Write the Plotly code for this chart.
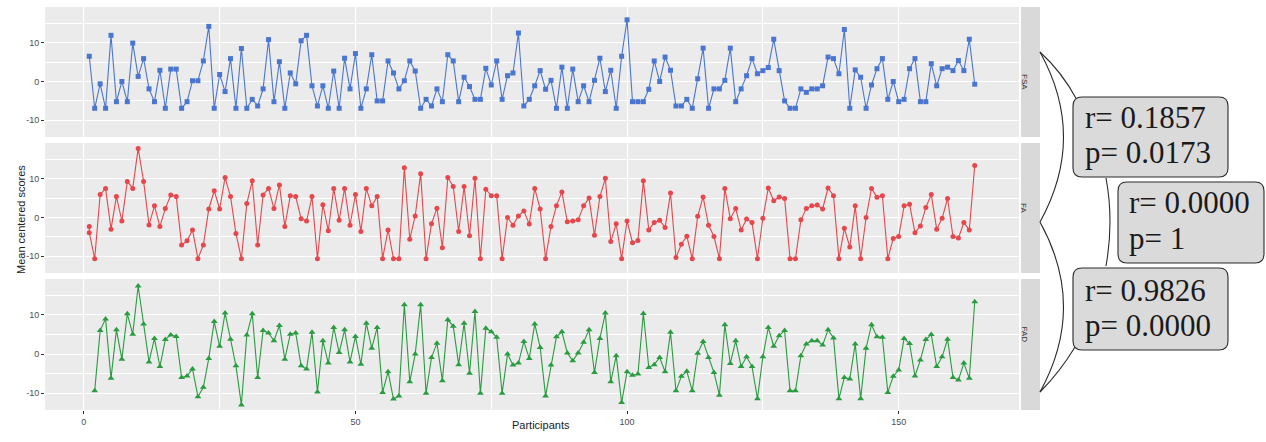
import plotly.graph_objects as go

W, H = 1266, 442

# ---------------- data ----------------
fsa_x = list(range(1, 165))
fsa_y = [6.5, -6.9, -0.6, -6.9, 11.9, -5.2, 0, -5.2, 9.9, 1.3, 5.9, -1.9, -5.2, 2.9, -6.9, 3.2, 3.2, -6.9, -5.2, 0.2,
         0.2, 5.3, 14.2, -6.9, 1.8, -2.6, 5.9, -6.9, 8.5, -6.9, -4.6, -6.3, -1.9, 10.8, -5.2, 5.1, -6.9, 2.2, -0.6, 10.5,
         11.9, -1.1, -6.3, -1.1, -6.9, 2.7, -6.9, 6.0, -1.9, 7.2, -6.9, -1.9, 6.9, -5.0,
         -5.0, 5.3, 2.2, -1.9, 0.2, 5.3, 2.7, -6.9, -4.6, -6.3, -1.9, -5.2, 6.9, 5.3, -5.2, 1.1, -1.3, -4.6, -4.6, 3.4,
         -0.9, 5.3, -4.6, 1.5, 2.2, 12.5, -6.3, -4.6, -1.1, 2.8, -2.0, 0.3, -6.9, 3.7, -6.9, 3.2, -5.2, -1.1, -5.2, 0.3,
         6.0, -2.6, 2.9, -6.9, 6.5, 15.9, -5.2, -5.2, -5.2, -2.0, 5.3, 0, 6.3, 2.9, -6.3, -6.3, -4.6,
         -6.9, 0.7, 8.6, -6.9, -1.9, -1.9, 0.3, 8.6, -5.2, -1.9, 1.5, 5.9, 2.0, 2.8, 3.6, 10.9, 2.8, -5.0, -6.9, -6.9,
         -1.9, -2.8, -1.9, -1.9, -1.1, 6.3, 5.9, 2.0, 13.4, -6.9, 3.0, 1.1, -6.9, -0.9, 3.3, 5.9, -4.6, 0, -5.2, -4.6,
         3.3, 5.9, -5.2, -5.2, 4.6, -1.1, 3.3, 3.7, 2.8, 5.4, 2.8, 10.9, -0.7]

fa_x = [1] + list(range(1, 165))
fa_y = [-2.3, -3.9, -10.6, 5.9, 7.5, -3.0, 5.4, -0.9, 9.3, 7.5, 17.8, 9.3, -1.9, 3.0, -2.3, 2.3, 5.8, 5.4, -7.1, -6.0,
        -3.2, -10.6, -7.1, 2.2, 6.9, 2.2, 10.3, 5.4, -4.1, -10.6, 3.6, 9.5, -7.1, 5.8, 7.5, 2.3, 8.4, -2.3, 5.6, 5.4,
        -0.3, -0.9, 5.4, -10.6, 3.3, -3.4, 7.5, -0.7, 7.5, -2.0, 5.9, -3.6, 7.5, 3.0, 5.4,
        -10.6, -3.2, -10.6, -10.6, 12.8, -5.6, 0.4, 11.3, -10.6, -1.6, 2.4, -7.8, 10.3, 8.0, -3.6, 8.0, -4.7, 10.1,
        -10.6, 7.3, 5.6, 5.6, -10.6, 0, -2.0, 0.4, 1.7, -1.7, 7.5, 2.2, -10.6, -2.3, 3.0, 6.6, -1.1, -0.9, -0.6, 3.0,
        5.0, -4.6, 5.4, 10.1, -6.2, -1.6, -10.6, -0.9, -6.5, -5.9, 9.5, -3.2, -1.3, -0.7, -2.6, 6.3, -10.3, -6.9, -4.8,
        -10.6, 0.3, 5.3, -2.0, -4.9, -10.6, 7.5, -0.3, 2.3, -3.2, -0.4, -1.3, -10.6, -0.2, 7.6, 4.3, 5.3, 4.9, -10.6,
        -10.6, -0.6, 2.3, 3.0, 3.2, 2.2, 7.6, 5.6, -10.6, -2.8, -7.6, 3.0, -10.6, 0, 7.5, 5.2, 5.6, -10.6, -5.4, -4.9,
        3.0, 3.4, -3.9, -2.2, 2.6, 5.9, -3.0, -0.2, 4.9, -4.9, -5.3, -1.3, -3.2, 13.4]

fad_x = list(range(2, 165))
fad_y = [-9.4, 6.0, 9.0, -6.2, 6.2, -1.3, 10.3, 5.1, 17.4, 7.7, -2.0, 4.0, -3.2, 3.7, 4.9, 4.5, -6.0, -5.6, -3.8,
         -10.9, -8.5, -1.1, 8.3, 2.0, 10.5, 3.8, -3.0, -13.0, 4.9, 10.3, -6.0, 6.0, 5.4, 3.4, 7.3, -1.3, 5.1, 5.4, -3.0,
         -3.8, 5.6, -9.7, 3.4, -2.3, 6.8, 0.4, 6.2, -2.0, 4.5, -2.6, 7.9, 1.5, 6.8,
         -9.8, -4.5, -11.5, -10.7, 12.6, -7.1, 0, 12.6, -10.0, -0.9, 2.8, -6.8, 8.8, 7.1, -2.7, 7.9, -4.9, 10.9, -10.0,
         6.6, 5.7, 4.3, -10.0, 0, -2.8, -2.3, 3.2, -1.1, 7.7, 1.7, -10.7, -2.8, 4.4, 5.7, 0.3, -1.7, 0.3, 3.0, 6.2,
         -4.7, 4.0, 10.5, -7.1, -0.4, -12.4, -4.5, -5.4, -5.1, 10.4, -3.4, -2.7, -0.9, -4.5, 5.6, -9.4, -5.7, -4.4,
         -9.4, 0.2, 3.2, -0.9, -4.7, -10.5, 7.5, -2.4, 3.4, -3.2, -0.7, -3.2, -11.4, -0.7, 6.8, 2.0, 4.7, 6.0, -9.4,
         -9.4, -0.4, 2.6, 3.4, 3.4, 2.3, 6.2, 4.1, -11.4, -6.0, -6.4, 2.6, -11.4, 1.5, 7.5, 4.4, 4.3, -9.8, -5.7, -4.1,
         4.0, 2.7, -5.6, -1.5, 3.7, 5.0, -3.2, -0.7, 3.8, -6.0, -6.6, -2.3, -6.2, 13.4]

panels = ["FSA", "FA", "FAD"]
x_ticks = [0, 50, 100, 150]
y_ticks = [-10, 0, 10]
stats_text = [["r= 0.1857", "p= 0.0173"], ["r= 0.0000", "p= 1"], ["r= 0.9826", "p= 0.0000"]]

# ---------------- helpers ----------------
def px(x):
    return x / W

def py(y):
    return 1 - y / H

x_dom = [px(45), px(1019)]
panel_px = [(7, 137), (143, 273), (279, 410)]
y_doms = [[py(b), py(t)] for (t, b) in panel_px]

colors = ["#4B76CF", "#E5474D", "#2A9B40"]
symbols = ["square", "circle", "triangle-up"]
msizes = [5, 5, 6]
series = [(fsa_x, fsa_y), (fa_x, fa_y), (fad_x, fad_y)]

fig = go.Figure()
for k, (xs, ys) in enumerate(series):
    sfx = "" if k == 0 else str(k + 1)
    fig.add_trace(go.Scatter(
        x=xs, y=ys, mode="lines+markers", name=panels[k],
        xaxis="x" + sfx, yaxis="y" + sfx,
        line=dict(color=colors[k], width=1.1),
        marker=dict(color=colors[k], symbol=symbols[k], size=msizes[k], line=dict(width=0)),
        showlegend=False,
    ))

tickfont = dict(family="Liberation Sans, Arial, sans-serif", size=9, color="#4D4D4D")
layout = dict(
    width=W, height=H, margin=dict(l=0, r=0, t=0, b=0),
    paper_bgcolor="white", plot_bgcolor="#EBEBEB",
    showlegend=False,
)
for k in range(3):
    sfx = "" if k == 0 else str(k + 1)
    layout["xaxis" + sfx] = dict(
        domain=x_dom, anchor="y" + sfx, range=[-7.15, 172.15],
        tickvals=x_ticks, ticktext=[str(v) for v in x_ticks],
        showticklabels=(k == 2), ticks="outside" if k == 2 else "",
        ticklen=3, tickwidth=1, tickcolor="#333333",
        showgrid=True, gridcolor="white", gridwidth=1.1, zeroline=False,
        minor=dict(tickvals=[25, 75, 125], showgrid=True, gridcolor="white", gridwidth=0.5),
        tickfont=tickfont, showline=False, fixedrange=True,
    )
    layout["yaxis" + sfx] = dict(
        domain=y_doms[k], anchor="x" + sfx, range=[-14.3, 19.2],
        tickvals=y_ticks, ticktext=[str(v) for v in y_ticks],
        ticks="outside", ticklen=3, tickwidth=1, tickcolor="#333333",
        showgrid=True, gridcolor="white", gridwidth=1.1, zeroline=False,
        minor=dict(tickvals=[-5, 5, 15], showgrid=True, gridcolor="white", gridwidth=0.5),
        tickfont=tickfont, showline=False, fixedrange=True,
    )
fig.update_layout(**layout)

shapes = []
annotations = []
# facet strips
for k, (t, b) in enumerate(panel_px):
    shapes.append(dict(type="rect", xref="paper", yref="paper",
                       x0=px(1021), x1=px(1040), y0=py(b), y1=py(t),
                       fillcolor="#D9D9D9", line=dict(width=0), layer="below"))
    annotations.append(dict(xref="paper", yref="paper", x=px(1030.5), y=py((t + b) / 2),
                            text=panels[k], showarrow=False, textangle=90,
                            font=dict(family="Liberation Sans, Arial, sans-serif", size=8, color="#333333")))

# axis titles
annotations.append(dict(xref="paper", yref="paper", x=px(541), y=py(433), text="Participants",
                        showarrow=False, font=dict(family="Liberation Sans, Arial, sans-serif", size=11, color="#222222")))
annotations.append(dict(xref="paper", yref="paper", x=px(13), y=py(220), text="Mean centered scores",
                        showarrow=False, textangle=-90,
                        font=dict(family="Liberation Sans, Arial, sans-serif", size=11, color="#222222")))

# braces / connectors (pixel coordinates -> paper)
def qpath(p0, c, p1):
    return "M {} {} Q {} {} {} {}".format(px(p0[0]), py(p0[1]), px(c[0]), py(c[1]), px(p1[0]), py(p1[1]))

line_style = dict(color="#2B2B2B", width=1.1)
curves = [
    ((1040, 52), (1087, 137), (1040, 222)),
    ((1040, 222), (1087, 307), (1040, 392)),
    ((1040, 52), (1062, 72), (1077, 100)),
    ((1040, 392), (1060, 372), (1075, 347)),
    ((1106, 178), (1114, 221), (1106, 266)),
]
for c in curves:
    shapes.append(dict(type="path", xref="paper", yref="paper", path=qpath(*c), line=line_style))

# rounded boxes
def rounded(x0, y0, x1, y1, r=9):
    pts = [
        ("M", x0 + r, y0), ("L", x1 - r, y0), ("Q", x1, y0, x1, y0 + r), ("L", x1, y1 - r),
        ("Q", x1, y1, x1 - r, y1), ("L", x0 + r, y1), ("Q", x0, y1, x0, y1 - r), ("L", x0, y0 + r),
        ("Q", x0, y0, x0 + r, y0),
    ]
    s = []
    for p in pts:
        if p[0] == "Q":
            s.append("Q {} {} {} {}".format(px(p[1]), py(p[2]), px(p[3]), py(p[4])))
        else:
            s.append("{} {} {}".format(p[0], px(p[1]), py(p[2])))
    return " ".join(s) + " Z"

boxes = [(1073, 97, 1228, 177), (1118, 182, 1264, 263), (1073, 268, 1228, 350)]
text_pos = [((1083, 118), (1083, 152)), ((1127, 203), (1127, 239)), ((1083, 290), (1083, 325))]
for k, (x0, y0, x1, y1) in enumerate(boxes):
    shapes.append(dict(type="path", xref="paper", yref="paper", path=rounded(x0, y0, x1, y1),
                       fillcolor="#DADADA", line=dict(color="#2B2B2B", width=1.1)))
    for j in range(2):
        tx, ty = text_pos[k][j]
        annotations.append(dict(xref="paper", yref="paper", x=px(tx), y=py(ty), xanchor="left", yanchor="middle",
                                text=stats_text[k][j], showarrow=False,
                                font=dict(family="Liberation Serif, Times New Roman, serif", size=31, color="#1A1A1A")))

fig.update_layout(shapes=shapes, annotations=annotations)
fig.write_html("out.html")
